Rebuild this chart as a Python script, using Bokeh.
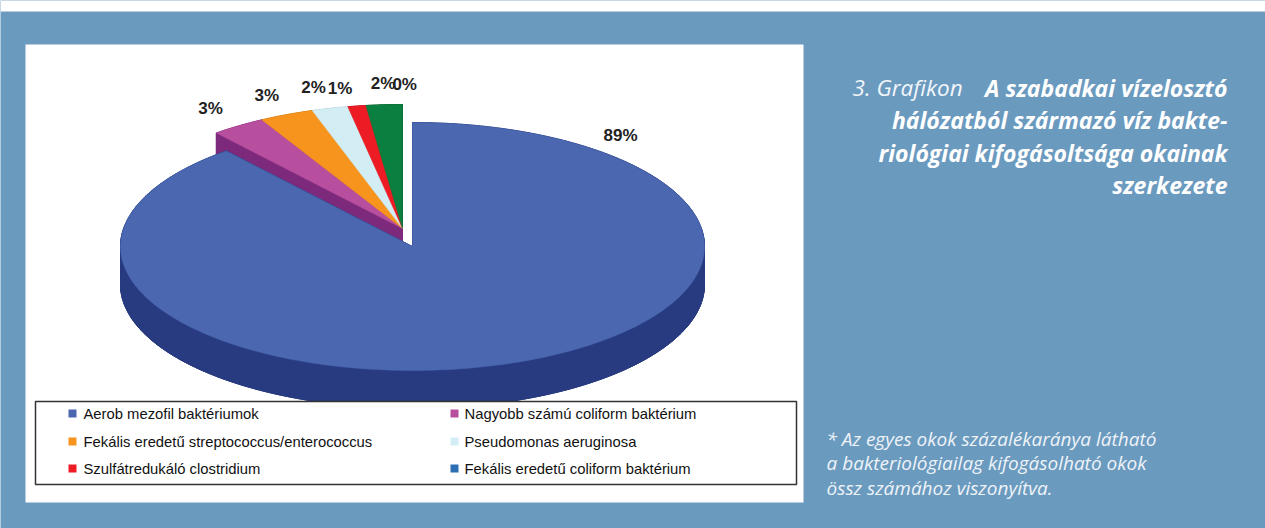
import numpy as np
from bokeh.plotting import figure
from bokeh.models import Range1d
from bokeh.core.properties import value
from bokeh.embed import file_html
from bokeh.resources import INLINE

# ---------------- data ----------------
categories = [
    "Aerob mezofil baktériumok",
    "Nagyobb számú coliform baktérium",
    "Fekális eredetű streptococcus/enterococcus",
    "Pseudomonas aeruginosa",
    "Szulfátredukáló clostridium",
    "Fekális eredetű coliform baktérium",
    "Egyéb",
]
shares = [89, 3, 3, 2, 1, 0, 2]
labels = ["89%", "3%", "3%", "2%", "1%", "0%", "2%"]
legend_items = categories[:6]

title_lines = [
    "A szabadkai vízelosztó",
    "hálózatból származó víz bakte-",
    "riológiai kifogásoltsága okainak",
    "szerkezete",
]
title_prefix = "3. Grafikon"
note_lines = [
    "* Az egyes okok százalékaránya látható",
    "a bakteriológiailag kifogásolható okok",
    "össz számához viszonyítva.",
]

# ---------------- style ----------------
top_colors = ["#4a67b0", "#b84f9e", "#f7941d", "#d3edf4", "#ed1c24", "#2e6eb5", "#0b7f3f"]
side_colors = ["#283b80", "#7e2a7c", "#c26f0e", "#a3c6d0", "#a3121a", "#1d4a80", "#06552a"]
BG = "#6b9abf"
CX, CY, RX, RY, H = 402.0, 228.0, 292.0, 124.0, 38.0
explode = {0: (10.0, 18.0)}
label_k = 1.17
label_nudge = {3: (-4, 0), 4: (-9, 3), 5: (45, 0), 6: (2, 0)}
blue_label_xy = (620, 135)

p = figure(width=1265, height=528, x_range=Range1d(0, 1265), y_range=Range1d(528, 0),
           output_backend="svg", toolbar_location=None, x_axis_type=None, y_axis_type=None,
           min_border=0, background_fill_color=BG, border_fill_color=BG,
           outline_line_color=None)
p.grid.visible = False

# white top strip and white panel
p.quad(left=[0], right=[1265], top=[0], bottom=[11], fill_color="white", line_color=None)
p.quad(left=[25], right=[803], top=[44], bottom=[502], fill_color="white", line_color=None)

# ---------------- 3D pie ----------------
total = float(sum(shares))
angles = np.cumsum([0] + [s / total * 2 * np.pi for s in shares])


def slice_poly(i):
    a0, a1 = angles[i], angles[i + 1]
    dx, dy = explode.get(i, (0.0, 0.0))
    cx, cy = CX + dx, CY + dy
    n = max(4, int((a1 - a0) / (2 * np.pi) * 400))
    t = np.linspace(a0, a1, n)
    xs = np.concatenate([[cx], cx + RX * np.sin(t)])
    ys = np.concatenate([[cy], cy - RY * np.cos(t)])
    return xs, ys


# back-to-front order for the walls: the slices at the back first, exploded slice last
small = [i for i in range(1, len(shares)) if shares[i] > 0]
wall_order = small[::-1] + [0]
top_order = small + [0]

for i in wall_order:
    xs, ys = slice_poly(i)
    wx, wy = [], []
    m = len(xs)
    for k in range(m):
        j = (k + 1) % m
        wx.append([xs[k], xs[j], xs[j], xs[k]])
        wy.append([ys[k], ys[j], ys[j] + H, ys[k] + H])
    p.patches(wx, wy, fill_color=side_colors[i], line_color=side_colors[i], line_width=1)
    p.patch(xs, ys + H, fill_color=side_colors[i], line_color=side_colors[i], line_width=1)

for i in top_order:
    xs, ys = slice_poly(i)
    p.patch(xs, ys, fill_color=top_colors[i], line_color=top_colors[i], line_width=0.5)

# labels
lx, ly, lt = [], [], []
for i in range(len(shares)):
    mid = (angles[i] + angles[i + 1]) / 2
    if i == 0:
        x, y = blue_label_xy
    else:
        x = CX + RX * label_k * np.sin(mid)
        y = CY - RY * label_k * np.cos(mid)
        ndx, ndy = label_nudge.get(i, (0, 0))
        x, y = x + ndx, y + ndy
    lx.append(x); ly.append(y); lt.append(labels[i])
p.text(lx, ly, text=lt, text_font=value("Liberation Sans"), text_font_size="17px",
       text_font_style="bold", text_color="#222222", text_align="center",
       text_baseline="middle")

# ---------------- legend ----------------
p.quad(left=[35], right=[796], top=[401], bottom=[484], fill_color="white",
       line_color="#333333", line_width=1.5)
rows_y = [413, 441, 468]
sq_x = [72, 454]
tx_x = [83, 464]
sx, sy, tx, ty, cols = [], [], [], [], []
for i, name in enumerate(legend_items):
    r, c = i // 2, i % 2
    sx.append(sq_x[c]); sy.append(rows_y[r]); cols.append(top_colors[i])
    tx.append(tx_x[c]); ty.append(rows_y[r])
p.rect(sx, sy, width=8, height=8, fill_color=cols, line_color=None)
p.text(tx, ty, text=legend_items, text_font=value("Liberation Sans"), text_font_size="14.8px",
       text_color="#111111", text_baseline="middle", text_align="left")

# ---------------- right texts ----------------
title_y = [87, 119, 152, 184]
p.text([1227] * 4, title_y, text=title_lines, text_font=value("Open Sans"),
       text_font_size="23px", text_font_style="bold italic", text_color="white",
       text_align="right", text_baseline="middle")
p.text([852], [87], text=[title_prefix], text_font=value("Open Sans"), text_font_size="22.5px",
       text_font_style="italic", text_color="#f2f6fa", text_align="left",
       text_baseline="middle")
p.text([826] * 3, [438, 462, 487], text=note_lines, text_font=value("Open Sans"),
       text_font_size="19px", text_font_style="italic", text_color="#eef3f8",
       text_align="left", text_baseline="middle")

open("out.html", "w").write(file_html(p, INLINE))
